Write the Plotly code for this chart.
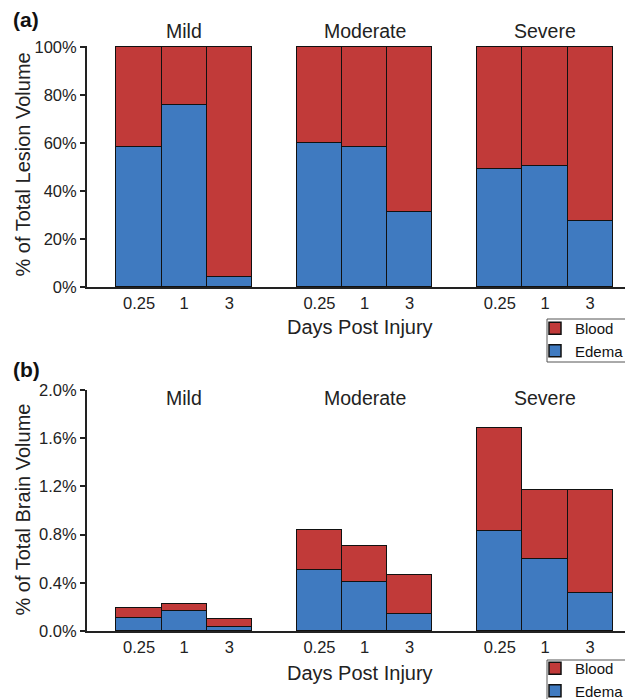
import plotly.graph_objects as go

# ---- data ----
severities = ["Mild", "Moderate", "Severe"]
days = ["0.25", "1", "3"]

# Panel (a): % of total lesion volume (edema share; blood = remainder)
lesion_edema = [58.5, 76.0, 4.2,
                60.3, 58.6, 31.5,
                49.3, 50.6, 27.4]
lesion_blood = [41.5, 24.0, 95.8,
                39.7, 41.4, 68.5,
                50.7, 49.4, 72.6]

# Panel (b): % of total brain volume
brain_edema = [0.111, 0.167, 0.030,
               0.506, 0.408, 0.144,
               0.833, 0.594, 0.319]
brain_blood = [0.083, 0.055, 0.067,
               0.336, 0.295, 0.320,
               0.848, 0.578, 0.848]

lesion_ticks = [0, 20, 40, 60, 80, 100]
lesion_ticktext = ["0%", "20%", "40%", "60%", "80%", "100%"]
brain_ticks = [0, 0.4, 0.8, 1.2, 1.6, 2.0]
brain_ticktext = ["0.0%", "0.4%", "0.8%", "1.2%", "1.6%", "2.0%"]

RED = "#C13A39"
BLUE = "#3F7AC0"
FONT = "Arial, Liberation Sans, sans-serif"

# the page body adds an 8px margin; size the figure so it fills the 633x699 window
OFF = 8
W, H = 633 - OFF, 699 - OFF


def px(x):
    return (x - OFF) / W


def py(y):
    return 1 - (y - OFF) / H


# slot positions: 3 days per group, an empty slot pair between groups
xpos = [g * 4 + d for g in range(len(severities)) for d in range(len(days))]
tick_text = [days[d] for g in range(len(severities)) for d in range(len(days))]
group_centers = [g * 4 + 1 for g in range(len(severities))]

fig = go.Figure()
outline = dict(color="#111111", width=1.5)

fig.add_trace(go.Bar(x=xpos, y=lesion_edema, name="Edema", marker=dict(color=BLUE, line=outline),
                     width=1, xaxis="x", yaxis="y", legend="legend"))
fig.add_trace(go.Bar(x=xpos, y=lesion_blood, name="Blood", marker=dict(color=RED, line=outline),
                     width=1, xaxis="x", yaxis="y", legend="legend"))
fig.add_trace(go.Bar(x=xpos, y=brain_edema, name="Edema", marker=dict(color=BLUE, line=outline),
                     width=1, xaxis="x2", yaxis="y2", legend="legend2"))
fig.add_trace(go.Bar(x=xpos, y=brain_blood, name="Blood", marker=dict(color=RED, line=outline),
                     width=1, xaxis="x2", yaxis="y2", legend="legend2"))

xr = [-1.153, 10.95]

xcommon = dict(domain=[px(87), 1], range=xr, tickmode="array", tickvals=xpos, ticktext=tick_text,
               showline=True, linecolor="#222222", linewidth=2, ticks="", showgrid=False,
               zeroline=False, tickfont=dict(size=16.5, color="#222222", family=FONT),
               fixedrange=True, automargin=False)
ycommon = dict(showline=True, linecolor="#222222", linewidth=2, ticks="outside", ticklen=5,
               tickwidth=1.5, tickcolor="#222222", showgrid=False, zeroline=False,
               tickfont=dict(size=16.5, color="#222222", family=FONT), tickmode="array",
               automargin=False, fixedrange=True)

legend_common = dict(xanchor="left", yanchor="top", traceorder="reversed",
                     borderwidth=0, bgcolor="rgba(0,0,0,0)",
                     font=dict(size=15, family=FONT, color="#111111"), itemwidth=30, tracegroupgap=0)

fig.update_layout(
    width=W, height=H,
    margin=dict(l=0, r=0, t=0, b=0, autoexpand=False),
    paper_bgcolor="white", plot_bgcolor="white",
    barmode="stack", bargap=0,
    font=dict(family=FONT, color="#222222"),
    xaxis=dict(**xcommon, anchor="y"),
    yaxis=dict(**ycommon, domain=[py(287), py(46)], range=[0, 100.6], anchor="x",
               tickvals=lesion_ticks, ticktext=lesion_ticktext),
    xaxis2=dict(**xcommon, anchor="y2"),
    yaxis2=dict(**ycommon, domain=[py(631), py(390)], range=[0, 2.0], anchor="x2",
                tickvals=brain_ticks, ticktext=brain_ticktext),
    legend=dict(**legend_common, x=px(535), y=py(312)),
    legend2=dict(**legend_common, x=px(535), y=py(652)),
    showlegend=True,
)

# legend frames (the reference frames run off the right / bottom edge)
fig.add_shape(type="rect", xref="paper", yref="paper", x0=px(547), x1=px(645),
              y0=py(362), y1=py(319), line=dict(color="#555555", width=1), layer="below")
fig.add_shape(type="rect", xref="paper", yref="paper", x0=px(547), x1=px(645),
              y0=py(710), y1=py(660), line=dict(color="#555555", width=1), layer="below")

ann = []
for sev, gx in zip(severities, group_centers):
    ann.append(dict(text=sev, x=gx, xref="x", y=py(31), yref="paper", showarrow=False,
                    font=dict(size=19.5, family=FONT), xanchor="center", yanchor="middle"))
    ann.append(dict(text=sev, x=gx, xref="x2", y=py(398), yref="paper", showarrow=False,
                    font=dict(size=19.5, family=FONT), xanchor="center", yanchor="middle"))
for xr_, yy in (("x", 327), ("x2", 673)):
    ann.append(dict(text="Days Post Injury", x=group_centers[1] - 0.1, xref=xr_, y=py(yy), yref="paper",
                    showarrow=False, font=dict(size=20, family=FONT), xanchor="center", yanchor="middle"))
ann.append(dict(text="% of Total Lesion Volume", textangle=-90, x=px(22.5), xref="paper",
                y=py(165), yref="paper", showarrow=False, font=dict(size=20, family=FONT),
                xanchor="center", yanchor="middle"))
ann.append(dict(text="% of Total Brain Volume", textangle=-90, x=px(22.5), xref="paper",
                y=py(510), yref="paper", showarrow=False, font=dict(size=20, family=FONT),
                xanchor="center", yanchor="middle"))
ann.append(dict(text="<b>(a)</b>", x=px(11), xref="paper", y=py(20), yref="paper", showarrow=False,
                font=dict(size=21, family=FONT, color="#111111"), xanchor="left", yanchor="middle"))
ann.append(dict(text="<b>(b)</b>", x=px(11), xref="paper", y=py(369), yref="paper", showarrow=False,
                font=dict(size=21, family=FONT, color="#111111"), xanchor="left", yanchor="middle"))
fig.update_layout(annotations=ann)

fig.write_html("out.html")
